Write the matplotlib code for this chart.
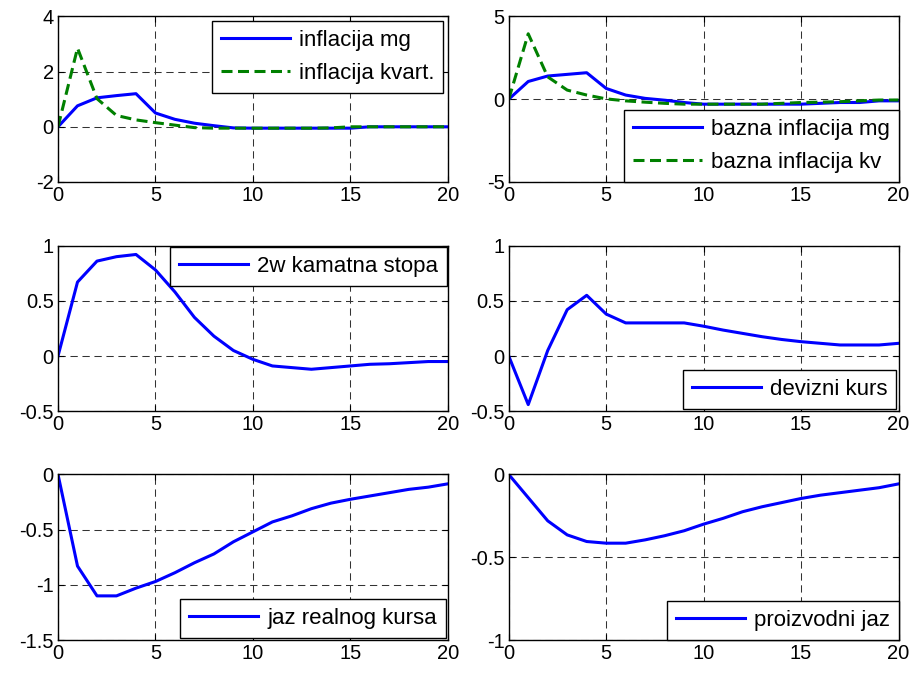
import matplotlib.pyplot as plt

plt.rcParams['font.family'] = ['Liberation Sans', 'DejaVu Sans']

x = list(range(21))

infl_mg = [0, 0.76, 1.05, 1.13, 1.2, 0.5, 0.27, 0.13, 0.04, -0.04, -0.05, -0.05, -0.05, -0.05,
           -0.05, -0.05, 0.0, 0.0, 0.0, 0.0, 0.0]
infl_kv = [0, 2.85, 1.02, 0.41, 0.25, 0.15, 0.06, -0.03, -0.05, -0.05, -0.05, -0.05, -0.05, -0.05,
           -0.04, 0.0, 0.0, 0.0, 0.0, 0.0, 0.0]
bazna_mg = [0, 1.07, 1.4, 1.5, 1.6, 0.65, 0.25, 0.05, -0.06, -0.2, -0.3, -0.3, -0.3, -0.3,
            -0.3, -0.3, -0.25, -0.2, -0.2, -0.1, -0.1]
bazna_kv = [0, 3.95, 1.35, 0.55, 0.25, 0.02, -0.1, -0.18, -0.25, -0.3, -0.3, -0.3, -0.3, -0.3,
            -0.25, -0.2, -0.18, -0.15, -0.1, -0.05, -0.05]
kamata = [0, 0.67, 0.86, 0.9, 0.92, 0.78, 0.58, 0.35, 0.18, 0.05, -0.03, -0.09, -0.105, -0.12,
          -0.105, -0.09, -0.075, -0.07, -0.06, -0.05, -0.05]
kurs = [0, -0.44, 0.05, 0.42, 0.55, 0.38, 0.3, 0.3, 0.3, 0.3, 0.27, 0.235, 0.205, 0.175,
        0.15, 0.13, 0.115, 0.1, 0.1, 0.1, 0.115]
jaz_kurs = [0, -0.83, -1.1, -1.1, -1.03, -0.97, -0.89, -0.8, -0.72, -0.61, -0.52, -0.43, -0.375,
            -0.31, -0.26, -0.225, -0.195, -0.165, -0.135, -0.115, -0.085]
jaz_proiz = [0, -0.14, -0.28, -0.365, -0.405, -0.415, -0.415, -0.395, -0.37, -0.34, -0.3, -0.265,
             -0.225, -0.195, -0.17, -0.145, -0.125, -0.11, -0.095, -0.08, -0.057]

panels = [
    # (series list, labels, ylim, yticks, legend loc, legend pad)
    ([infl_mg, infl_kv], ["inflacija mg", "inflacija kvart."], (-2, 4), [-2, 0, 2, 4], "upper right", 0.2),
    ([bazna_mg, bazna_kv], ["bazna inflacija mg", "bazna inflacija kv"], (-5, 5), [-5, 0, 5], "lower right", 0.0),
    ([kamata], ["2w kamatna stopa"], (-0.5, 1), [-0.5, 0, 0.5, 1], "upper right", 0.05),
    ([kurs], ["devizni kurs"], (-0.5, 1), [-0.5, 0, 0.5, 1], "lower right", 0.1),
    ([jaz_kurs], ["jaz realnog kursa"], (-1.5, 0), [-1.5, -1, -0.5, 0], "lower right", 0.1),
    ([jaz_proiz], ["proizvodni jaz"], (-1, 0), [-1, -0.5, 0], "lower right", 0.0),
]

fig = plt.figure(figsize=(9.15, 6.73), dpi=100)
lefts = [0.0634, 0.556]
bottoms = [0.7296, 0.389, 0.049]
w, h = 0.426, 0.246

styles = [dict(color="#0000ff", ls="-"), dict(color="#008000", ls=(0, (3.6, 1.8)))]

for i, (series, labels, ylim, yticks, loc, pad) in enumerate(panels):
    ax = fig.add_axes([lefts[i % 2], bottoms[i // 2], w, h])
    for s, lab, st in zip(series, labels, styles):
        ax.plot(x, s, lw=2.2, label=lab, **st)
    ax.set_xlim(0, 20)
    ax.set_ylim(*ylim)
    ax.set_xticks([0, 5, 10, 15, 20])
    ax.set_yticks(yticks)
    ax.set_yticklabels([f"{t:g}" for t in yticks])
    ax.grid(True, color="#333333", ls=(0, (7, 4.5)), lw=0.75)
    ax.tick_params(labelsize=14.5, direction="in", top=True, right=True, length=4, pad=3)
    for sp in ax.spines.values():
        sp.set_linewidth(1)
    leg = ax.legend(loc=loc, fontsize=16, fancybox=False, framealpha=1, edgecolor="black",
                    borderaxespad=pad, borderpad=0.4, handlelength=3.1, handletextpad=0.4,
                    labelspacing=0.55)
    leg.get_frame().set_linewidth(1)

fig.savefig("out.png", dpi=100)
